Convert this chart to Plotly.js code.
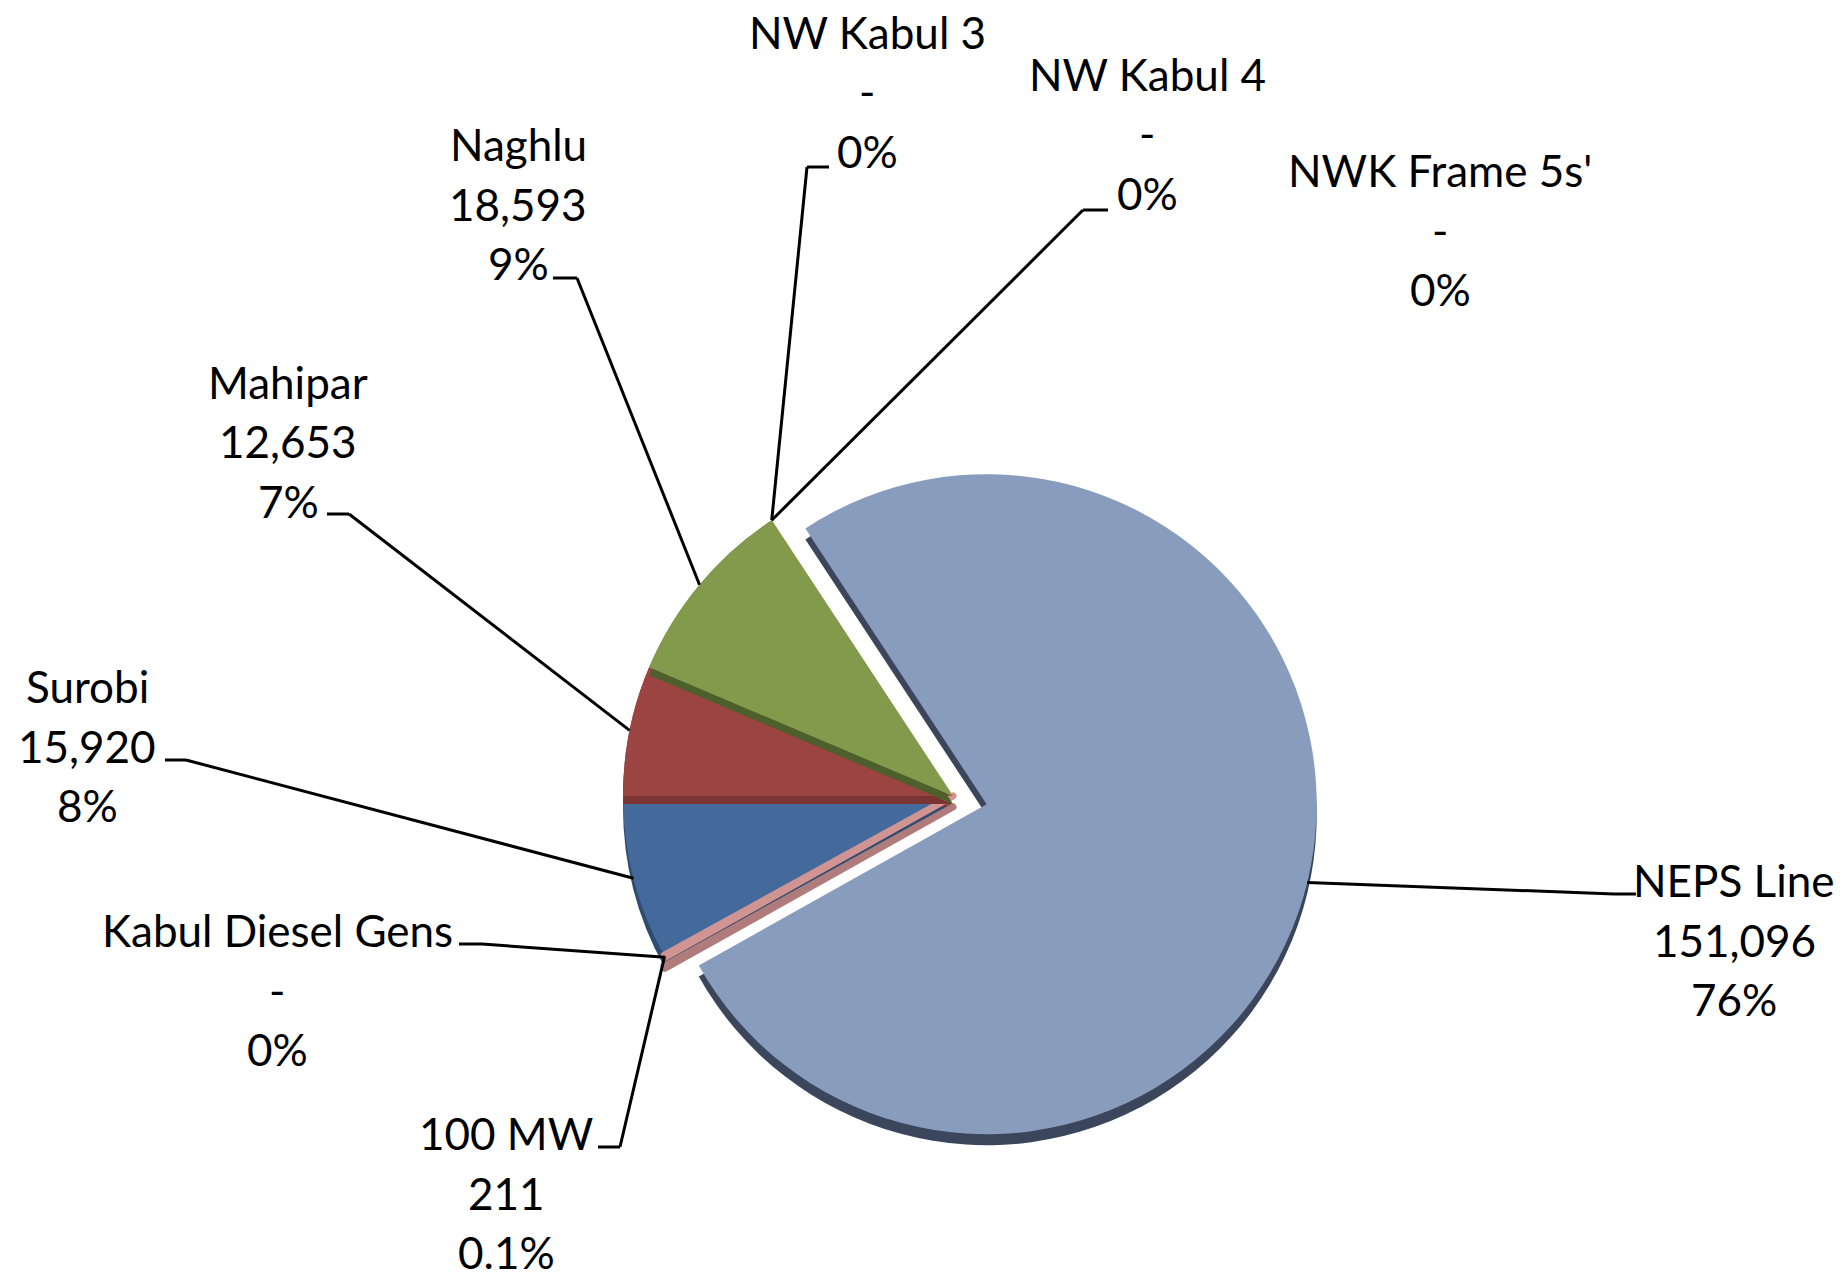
<!DOCTYPE html>
<html><head><meta charset="utf-8">
<script src="https://cdn.plot.ly/plotly-3.0.1.min.js"></script>
<style>html,body{margin:0;padding:0;background:#fff}#chart{width:1845px;height:1277px}</style>
</head><body><div id="chart"></div>
<script>
// ---- data ----
const categories = ["Surobi","Mahipar","Naghlu","NW Kabul 3","NW Kabul 4","NWK Frame 5s'","NEPS Line","Kabul Diesel Gens","100 MW"];
const values = [15920,12653,18593,0,0,0,151096,0,211];
const percentLabels = ["8%","7%","9%","0%","0%","0%","76%","0%","0.1%"];

// ---- style ----
const colors = ["#436A9B","#9B4441","#819A4B","#7D6096","#4BACC6","#F79646","#889DBD","#2C4D75","#D09493"];
const sideColors = ["#2E4B70","#7A3432","#4D5F2B","#5A4470","#2F7F94","#B86A2A","#3B465C","#1E3550","#B07C7B"];
const pulls = [0,0,0,0,0,0,0.105,0,0];
const lineWidths = [0,0,0,0,0,0,0,0,7];
const TRANSPARENT = 'rgba(0,0,0,0)';

const W = 1845, H = 1277;
const CX = 953, CY = 796, R = 330, MAXPULL = 0.105, SHIFT = 11, SIDE = 8;
const half = R * (1 + MAXPULL);
function dom(cx, cy) {
  return {x: [(cx - half) / W, (cx + half) / W], y: [1 - (cy + half) / H, 1 - (cy - half) / H]};
}
const total = values.reduce((a, b) => a + b, 0);
const rotation = 270 - 360 * values[0] / total;

// label layout: center x, first line center y (px), leader: [textSideX, cornerX, cornerY]
const labelPos = [
  {x: 87,   y: 686,  leader: [165, 186, 760]},
  {x: 288,  y: 382,  leader: [327, 349, 514]},
  {x: 518,  y: 144,  leader: [553, 577, 278]},
  {x: 867,  y: 32,   leader: [829, 807, 167]},
  {x: 1147, y: 74,   leader: [1108, 1083, 210]},
  {x: 1440, y: 170,  leader: null},
  {x: 1734, y: 880,  leader: [1636, 1614, 894]},
  {x: 277,  y: 930,  leader: [459, 482, 944]},
  {x: 506,  y: 1133, leader: [598, 620, 1147]}
];
const LINE = 59.5;

function valueText(v) { return v === 0 ? "-" : v.toLocaleString("en-US"); }

// anchor on slice edge (same geometry as plotly pie: angle clockwise from 12 o'clock)
function anchor(i) {
  let cum = 0;
  for (let k = 0; k < i; k++) cum += values[k];
  const frac = values[i] > 0 ? (cum + values[i] / 2) / total : cum / total;
  const a = (rotation + 360 * frac) * Math.PI / 180;
  const p = pulls[i] * R;
  const cx = CX + p * Math.sin(a), cy = CY - p * Math.cos(a);
  return [cx + R * Math.sin(a), cy - R * Math.cos(a)];
}

const px = x => x / W, py = y => 1 - y / H;

const annotations = [], shapes = [];
categories.forEach((c, i) => {
  const lp = labelPos[i];
  [c, valueText(values[i]), percentLabels[i]].forEach((t, j) => {
    annotations.push({
      text: t, xref: 'paper', yref: 'paper', x: px(lp.x), y: py(lp.y + j * LINE),
      xanchor: 'center', yanchor: 'middle', showarrow: false,
      font: {family: 'Lato, "Open Sans", sans-serif', size: 44, color: '#000'}
    });
  });
  if (lp.leader) {
    const [tx, kx, ky] = lp.leader;
    const [ax, ay] = anchor(i);
    const ln = {type: 'line', xref: 'paper', yref: 'paper', line: {color: '#000', width: 3}};
    shapes.push(Object.assign({}, ln, {x0: px(ax), y0: py(ay), x1: px(kx), y1: py(ky)}));
    shapes.push(Object.assign({}, ln, {x0: px(kx), y0: py(ky), x1: px(tx), y1: py(ky)}));
  }
});

const base = {
  type: 'pie', labels: categories, values: values, sort: false, direction: 'clockwise',
  rotation: rotation, pull: pulls, textinfo: 'none', hoverinfo: 'none', showlegend: false
};
function only(idx, palette) {
  return palette.map((c, k) => k === idx ? c : TRANSPARENT);
}
const traces = [
  Object.assign({}, base, {marker: {colors: sideColors, line: {width: lineWidths, color: sideColors}}, domain: dom(CX, CY + SHIFT)}),
  Object.assign({}, base, {marker: {colors: colors, line: {width: lineWidths, color: colors}}, domain: dom(CX, CY)}),
  // side walls of the Mahipar and Naghlu slices, seen over the neighbouring slice
  Object.assign({}, base, {marker: {colors: only(1, sideColors), line: {width: 0}}, domain: dom(CX, CY + SIDE)}),
  Object.assign({}, base, {marker: {colors: only(1, colors), line: {width: 0}}, domain: dom(CX, CY)}),
  Object.assign({}, base, {marker: {colors: only(2, sideColors), line: {width: 0}}, domain: dom(CX, CY + SIDE)}),
  Object.assign({}, base, {marker: {colors: only(2, colors), line: {width: 0}}, domain: dom(CX, CY)})
];

Plotly.newPlot('chart', traces, {
  width: W, height: H, margin: {l: 0, r: 0, t: 0, b: 0},
  paper_bgcolor: '#fff', showlegend: false,
  annotations: annotations, shapes: shapes
}, {displayModeBar: false, staticPlot: true});
</script></body></html>
